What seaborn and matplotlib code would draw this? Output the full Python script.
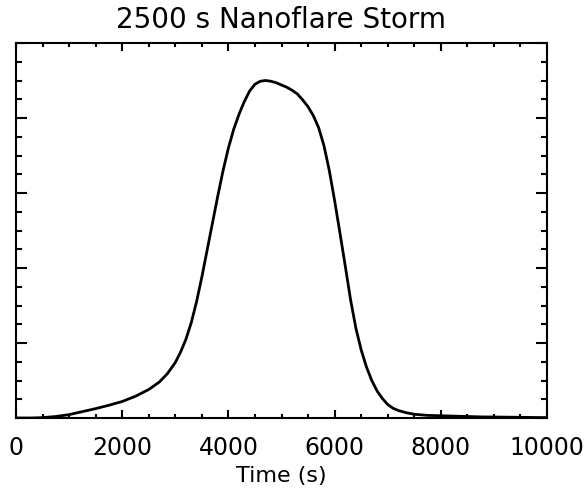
import numpy as np
import pandas as pd
import matplotlib
matplotlib.use("Agg")
import matplotlib.pyplot as plt
from matplotlib.ticker import MultipleLocator, NullFormatter
import seaborn as sns

sns.set_style("ticks")
plt.rcParams['font.family'] = ['DejaVu Sans']
plt.rcParams['text.color'] = 'black'
plt.rcParams['axes.labelcolor'] = 'black'
plt.rcParams['xtick.color'] = 'black'
plt.rcParams['ytick.color'] = 'black'

# light curve (arbitrary units)
time = [0, 300, 500, 750, 1000, 1250, 1500, 1750, 2000, 2250, 2500, 2700,
        2850, 3000, 3100, 3200, 3300, 3400, 3500, 3600, 3700, 3800, 3900,
        4000, 4100, 4200, 4300, 4400, 4500, 4600, 4700, 4800, 4900, 5000,
        5100, 5200, 5300, 5400, 5500, 5600, 5700, 5800, 5900, 6000, 6100,
        6200, 6300, 6400, 6500, 6600, 6700, 6800, 6900, 7000, 7100, 7200,
        7350, 7500, 7750, 8000, 8740, 9400, 10000]
flux = [0.0, 0.0, 0.005, 0.02, 0.045, 0.085, 0.125, 0.17, 0.22, 0.29, 0.38,
        0.48, 0.59, 0.74, 0.88, 1.05, 1.27, 1.55, 1.88, 2.24, 2.60, 2.96,
        3.30, 3.60, 3.85, 4.05, 4.22, 4.36, 4.45, 4.49, 4.50, 4.49, 4.47,
        4.44, 4.41, 4.37, 4.32, 4.24, 4.15, 4.03, 3.87, 3.63, 3.30, 2.90,
        2.47, 2.03, 1.58, 1.20, 0.91, 0.68, 0.50, 0.36, 0.26, 0.18, 0.13,
        0.10, 0.07, 0.05, 0.035, 0.03, 0.015, 0.01, 0.005]

df = pd.DataFrame({"time": time, "flux": flux})

fig = plt.figure(figsize=(5.85, 4.91), dpi=100)
ax = fig.add_axes([16/585, 1 - 418/491, 531/585, 375/491])

sns.lineplot(data=df, x="time", y="flux", ax=ax, color="black", linewidth=2.0)

ax.set_xlim(0, 10000)
ax.set_ylim(0, 5)
ax.xaxis.set_major_locator(MultipleLocator(2000))
ax.xaxis.set_minor_locator(MultipleLocator(500))
ax.yaxis.set_major_locator(MultipleLocator(1))
ax.yaxis.set_minor_locator(MultipleLocator(0.25))
ax.yaxis.set_major_formatter(NullFormatter())

ax.tick_params(axis="both", which="both", direction="in", top=True, right=True,
               color="black", width=1.5)
ax.tick_params(axis="x", which="major", length=6, labelsize=17, pad=13)
ax.tick_params(axis="x", which="minor", length=3)
ax.tick_params(axis="y", which="major", length=8)
ax.tick_params(axis="y", which="minor", length=4.5)

for s in ax.spines.values():
    s.set_linewidth(1.5)
    s.set_color("black")

ax.set_xlabel("Time (s)", fontsize=16, labelpad=4)
ax.set_ylabel("")
ax.set_title("2500 s Nanoflare Storm", fontsize=20, pad=11)

fig.savefig("out.png", dpi=100)
